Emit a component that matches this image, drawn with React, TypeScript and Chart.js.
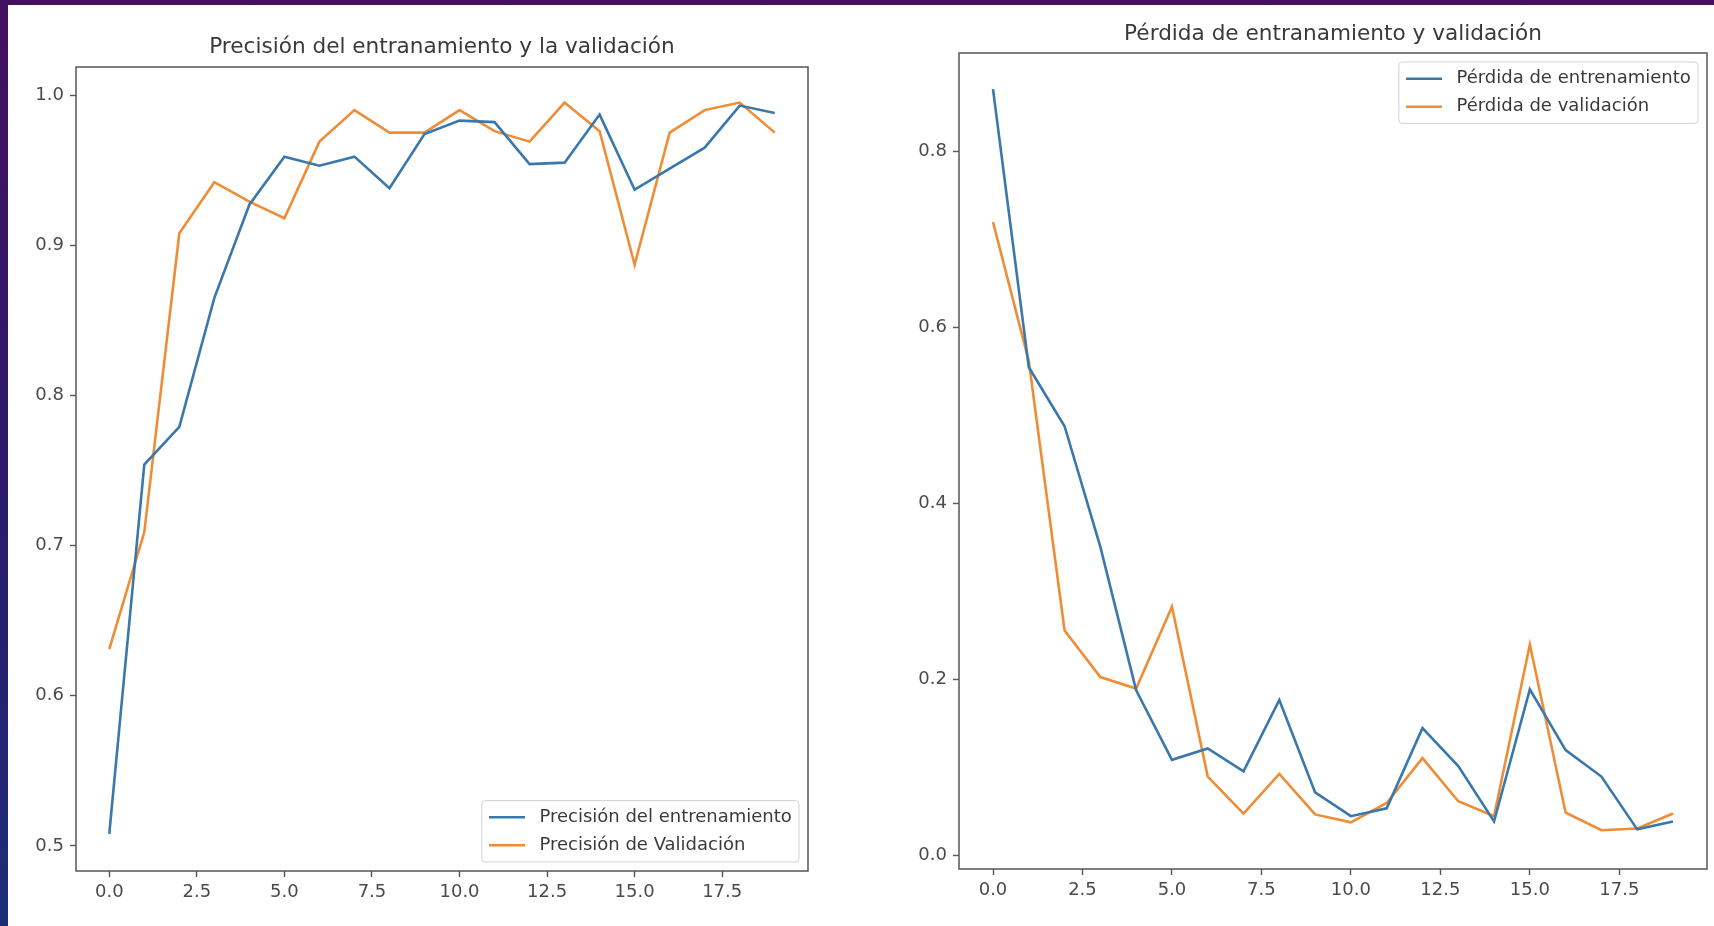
import React, { useEffect, useRef } from "react";
import { Chart, registerables } from "chart.js";

Chart.register(...registerables);

// ---------------- data ----------------
const epochs = [0, 1, 2, 3, 4, 5, 6, 7, 8, 9, 10, 11, 12, 13, 14, 15, 16, 17, 18, 19];

const trainAcc = [0.508, 0.754, 0.779, 0.865, 0.927, 0.959, 0.953, 0.959, 0.938, 0.974, 0.983, 0.982, 0.954, 0.955, 0.987, 0.937, 0.951, 0.965, 0.993, 0.988];
const valAcc = [0.631, 0.709, 0.908, 0.942, 0.929, 0.918, 0.969, 0.99, 0.975, 0.975, 0.99, 0.976, 0.969, 0.995, 0.976, 0.887, 0.975, 0.99, 0.995, 0.975];

const trainLoss = [0.871, 0.555, 0.488, 0.351, 0.188, 0.109, 0.122, 0.096, 0.177, 0.072, 0.045, 0.054, 0.145, 0.102, 0.039, 0.189, 0.12, 0.09, 0.03, 0.039];
const valLoss = [0.72, 0.562, 0.256, 0.203, 0.19, 0.283, 0.09, 0.048, 0.093, 0.047, 0.038, 0.06, 0.111, 0.062, 0.045, 0.24, 0.049, 0.029, 0.031, 0.048];

const xTicks = [0, 2.5, 5, 7.5, 10, 12.5, 15, 17.5];
const accTicks = [0.5, 0.6, 0.7, 0.8, 0.9, 1.0];
const lossTicks = [0, 0.2, 0.4, 0.6, 0.8];

const accTitle = "Precisión del entranamiento y la validación";
const lossTitle = "Pérdida de entranamiento y validación";
const accLabels = ["Precisión del entrenamiento", "Precisión de Validación"];
const lossLabels = ["Pérdida de entrenamiento", "Pérdida de validación"];

// ---------------- styles ----------------
const FONT = '"DejaVu Sans", "Liberation Sans", sans-serif';
const BLUE = "#3a78ab";
const ORANGE = "#ef8c36";
const SPINE = "#555555";
const TICK_TEXT = "#4a4a4a";
const TITLE_TEXT = "#3a3a3a";

type Panel = {
  title: string;
  labels: string[];
  series: number[][];
  yMin: number;
  yMax: number;
  yTicks: number[];
  padTop: number;
  padRight: number;
  yWidth: number;
  xHeight: number;
  titleGap: number;
  legendLoc: "lower right" | "upper right";
};

function buildChart(canvas: HTMLCanvasElement, c: Panel) {
  const colors = [BLUE, ORANGE];

  const framePlugin = {
    id: "frame",
    afterDraw(chart: any) {
      const { ctx, chartArea: a } = chart;
      ctx.save();
      ctx.strokeStyle = SPINE;
      ctx.lineWidth = 1.5;
      ctx.strokeRect(a.left, a.top, a.right - a.left, a.bottom - a.top);
      ctx.restore();
    },
  };

  // axes title, centred over the plotting area (matplotlib style)
  const titlePlugin = {
    id: "axesTitle",
    afterDraw(chart: any) {
      const { ctx, chartArea: a } = chart;
      ctx.save();
      ctx.font = `21.6px ${FONT}`;
      ctx.fillStyle = TITLE_TEXT;
      ctx.textAlign = "center";
      ctx.textBaseline = "middle";
      ctx.fillText(c.title, (a.left + a.right) / 2, a.top - c.titleGap);
      ctx.restore();
    },
  };

  const legendPlugin = {
    id: "mplLegend",
    afterDraw(chart: any) {
      const { ctx, chartArea: a } = chart;
      const fs = 18;
      const pad = 0.4 * fs;
      const hl = 2 * fs;
      const htp = 0.8 * fs;
      const ls = 0.5 * fs;
      const bap = 0.5 * fs;
      const rowH = 19;
      ctx.save();
      ctx.font = `${fs}px ${FONT}`;
      const ds = chart.data.datasets;
      let tw = 0;
      ds.forEach((d: any) => {
        tw = Math.max(tw, ctx.measureText(d.label).width);
      });
      const w = 2 * pad + hl + htp + tw;
      const h = 2 * pad + ds.length * rowH + (ds.length - 1) * ls;
      const x = a.right - bap - w;
      const y = c.legendLoc === "lower right" ? a.bottom - bap - h : a.top + bap;
      const r = 0.2 * fs;
      ctx.beginPath();
      ctx.moveTo(x + r, y);
      ctx.lineTo(x + w - r, y);
      ctx.arcTo(x + w, y, x + w, y + r, r);
      ctx.lineTo(x + w, y + h - r);
      ctx.arcTo(x + w, y + h, x + w - r, y + h, r);
      ctx.lineTo(x + r, y + h);
      ctx.arcTo(x, y + h, x, y + h - r, r);
      ctx.lineTo(x, y + r);
      ctx.arcTo(x, y, x + r, y, r);
      ctx.closePath();
      ctx.fillStyle = "rgba(255,255,255,0.8)";
      ctx.fill();
      ctx.strokeStyle = "rgba(204,204,204,0.9)";
      ctx.lineWidth = 1;
      ctx.stroke();
      ds.forEach((d: any, i: number) => {
        const cy = y + pad + rowH / 2 + i * (rowH + ls);
        ctx.beginPath();
        ctx.moveTo(x + pad, cy);
        ctx.lineTo(x + pad + hl, cy);
        ctx.strokeStyle = d.borderColor;
        ctx.lineWidth = 2.6;
        ctx.stroke();
        ctx.fillStyle = TITLE_TEXT;
        ctx.textBaseline = "middle";
        ctx.textAlign = "left";
        ctx.fillText(d.label, x + pad + hl + htp, cy);
      });
      ctx.restore();
    },
  };

  const tickFont = { family: FONT, size: 18 };

  return new Chart(canvas, {
    type: "line",
    data: {
      datasets: c.series.map((s, i) => ({
        label: c.labels[i],
        data: epochs.map((e, j) => ({ x: e, y: s[j] })),
        borderColor: colors[i],
        backgroundColor: colors[i],
        borderWidth: 2.6,
        pointRadius: 0,
        fill: false,
        tension: 0,
      })),
    },
    options: {
      responsive: false,
      animation: false,
      layout: { padding: { left: 0, right: c.padRight, top: c.padTop, bottom: 0 } },
      plugins: {
        legend: { display: false },
        tooltip: { enabled: false },
        title: { display: false },
      },
      scales: {
        x: {
          type: "linear",
          min: -0.95,
          max: 19.95,
          afterBuildTicks: (s: any) => {
            s.ticks = xTicks.map((v) => ({ value: v }));
          },
          afterFit: (s: any) => {
            s.height = c.xHeight;
          },
          ticks: {
            autoSkip: false,
            maxRotation: 0,
            minRotation: 0,
            padding: 5,
            color: TICK_TEXT,
            font: tickFont,
            callback: (v: any) => Number(v).toFixed(1),
          },
          grid: { drawOnChartArea: false, drawTicks: true, tickLength: 6, tickWidth: 1.4, tickColor: SPINE },
          border: { display: false },
        },
        y: {
          type: "linear",
          min: c.yMin,
          max: c.yMax,
          afterBuildTicks: (s: any) => {
            s.ticks = c.yTicks.map((v) => ({ value: v }));
          },
          afterFit: (s: any) => {
            s.width = c.yWidth;
          },
          ticks: {
            autoSkip: false,
            padding: 6,
            color: TICK_TEXT,
            font: tickFont,
            callback: (v: any) => Number(v).toFixed(1),
          },
          grid: { drawOnChartArea: false, drawTicks: true, tickLength: 6, tickWidth: 1.4, tickColor: SPINE },
          border: { display: false },
        },
      },
    } as any,
    plugins: [framePlugin, titlePlugin, legendPlugin],
  });
}

function ChartCanvas(props: { panel: Panel; left: number; width: number; height: number }) {
  const ref = useRef<HTMLCanvasElement | null>(null);
  useEffect(() => {
    if (!ref.current) return;
    const chart = buildChart(ref.current, props.panel);
    return () => chart.destroy();
  }, []);
  return (
    <canvas
      ref={ref}
      width={props.width}
      height={props.height}
      style={{ position: "absolute", left: props.left, top: 0, width: props.width, height: props.height }}
    />
  );
}

const accPanel: Panel = {
  title: accTitle,
  labels: accLabels,
  series: [trainAcc, valAcc],
  yMin: 0.4833,
  yMax: 1.0187,
  yTicks: accTicks,
  padTop: 67,
  padRight: 72,
  yWidth: 76,
  xHeight: 55,
  titleGap: 20,
  legendLoc: "lower right",
};

const lossPanel: Panel = {
  title: lossTitle,
  labels: lossLabels,
  series: [trainLoss, valLoss],
  yMin: -0.015,
  yMax: 0.912,
  yTicks: lossTicks,
  padTop: 53,
  padRight: 7,
  yWidth: 79,
  xHeight: 57,
  titleGap: 19,
  legendLoc: "upper right",
};

export default function App() {
  useEffect(() => {
    document.body.style.margin = "0";
    document.body.style.overflow = "hidden";
  }, []);
  return (
    <div
      style={{
        position: "relative",
        width: 1714,
        height: 926,
        overflow: "hidden",
        background: "linear-gradient(to bottom, #43105f 0%, #2c1a6a 50%, #1d2c78 100%)",
      }}
    >
      <div style={{ position: "absolute", left: 8, top: 5, width: 1706, height: 921, background: "#ffffff" }} />
      <ChartCanvas panel={accPanel} left={0} width={880} height={926} />
      <ChartCanvas panel={lossPanel} left={880} width={834} height={926} />
    </div>
  );
}
